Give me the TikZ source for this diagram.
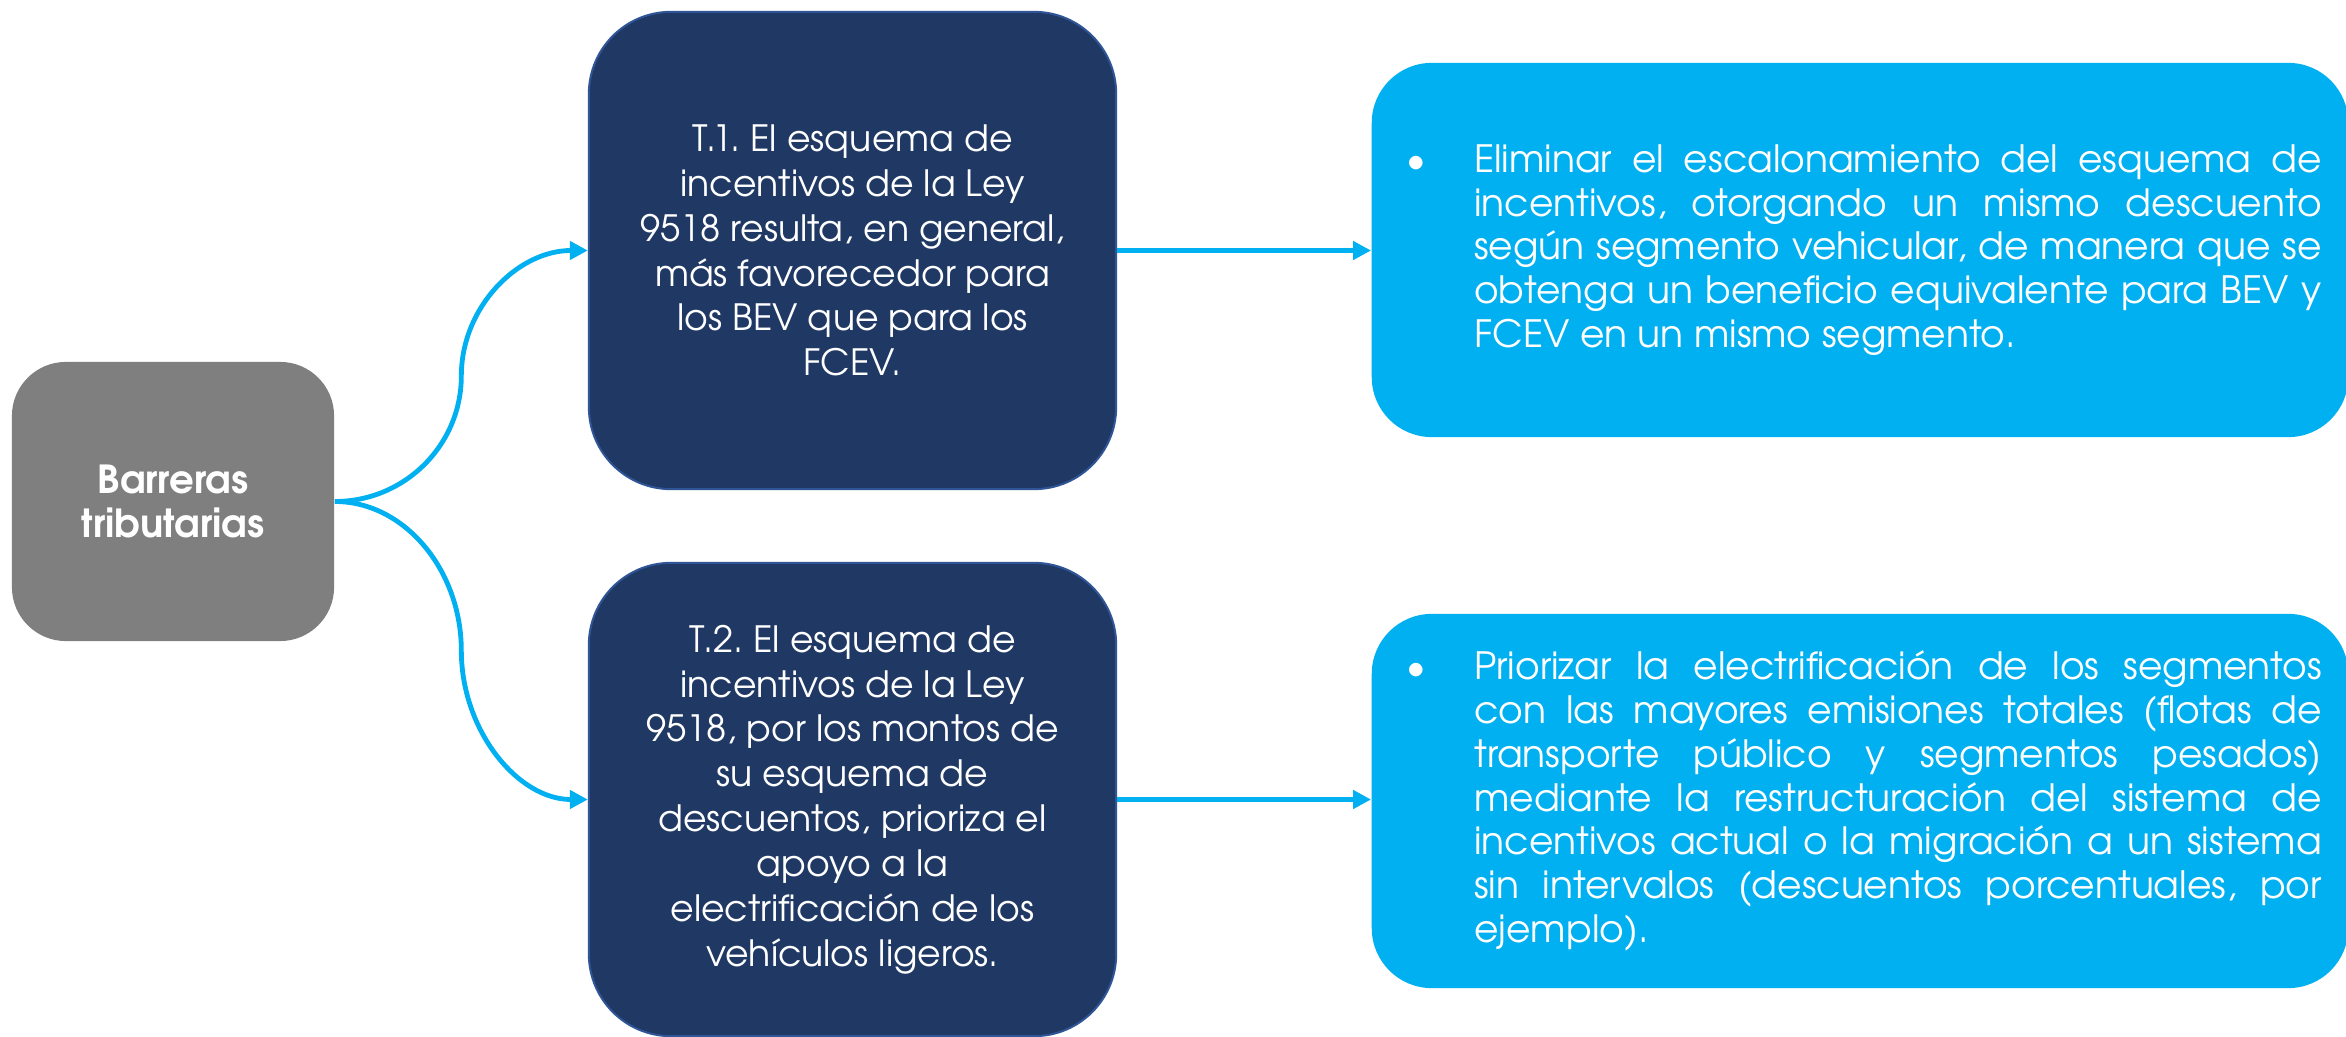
\documentclass[tikz,border=0pt]{standalone}
\usepackage{fontspec}
\setmainfont{texgyreadventor}[Extension=.otf,UprightFont=*-regular,BoldFont=*-bold,ItalicFont=*-italic,BoldItalicFont=*-bolditalic]
\usetikzlibrary{arrows.meta,calc}
\definecolor{cgray}{HTML}{7F7F7F}
\definecolor{cnavy}{HTML}{203864}
\definecolor{cnavyline}{HTML}{2F5597}
\definecolor{ccyan}{HTML}{00B0F0}
\newcommand{\jline}[1]{\makebox[\linewidth][s]{#1}}
\frenchspacing
\begin{document}
\begin{tikzpicture}[x=0.01cm,y=-0.01cm,
  graybox/.style={fill=cgray,draw=none,rounded corners=0.54cm,minimum width=3.22cm,minimum height=2.79cm,
    text=white,font=\fontsize{11}{12.7}\selectfont\bfseries,align=center,inner sep=0pt},
  navybox/.style={fill=cnavy,draw=cnavyline,line width=0.02cm,rounded corners=0.82cm,minimum width=5.27cm,
    text=white,align=center,font=\fontsize{10.3}{12.75}\selectfont,inner sep=0pt},
  cyanbox/.style={fill=ccyan,draw=none,rounded corners=0.6cm,minimum width=9.76cm,minimum height=3.74cm,
    text=white,font=\fontsize{10.7}{12.45}\selectfont,inner sep=0pt},
  conn/.style={draw=ccyan,line width=0.048cm,-{Triangle[length=0.18cm,width=0.18cm]}},
  hconn/.style={draw=ccyan,line width=0.05cm,-{Triangle[length=0.18cm,width=0.18cm]}}]
\useasboundingbox (0,0) rectangle (2346,1037);
\fill[white] (0,0) rectangle (2346,1037);

\node[graybox] (L) at (173,501.5) {Barreras\\tributarias};

\node[navybox,minimum height=4.77cm] (T1) at (852.5,250.5)
  {T.1. El esquema de\\incentivos de la Ley\\9518 resulta, en general,\\más favorecedor para\\los BEV que para los\\FCEV.};
\node[navybox,minimum height=4.73cm] (T2) at (852.5,799.5)
  {T.2. El esquema de\\incentivos de la Ley\\9518, por los montos de\\su esquema de\\descuentos, prioriza el\\apoyo a la\\electrificación de los\\vehículos ligeros.};

\node[cyanbox] (R1) at (1860,250)
  {\makebox[0.76cm][l]{\hspace{0.08cm}\textbullet}\parbox[t]{8.47cm}{\fontsize{10.7}{12.45}\selectfont
   \jline{Eliminar el escalonamiento del esquema de}\\
   \jline{incentivos, otorgando un mismo descuento}\\
   \jline{según segmento vehicular, de manera que se}\\
   \jline{obtenga un beneficio equivalente para BEV y}\\
   FCEV en un mismo segmento.}};
\node[cyanbox] (R2) at (1860,801)
  {\makebox[0.76cm][l]{\hspace{0.08cm}\textbullet}\parbox[t]{8.47cm}{\fontsize{10.7}{12.45}\selectfont
   \jline{Priorizar la electrificación de los segmentos}\\
   \jline{con las mayores emisiones totales (flotas de}\\
   \jline{transporte público y segmentos pesados)}\\
   \jline{mediante la restructuración del sistema de}\\
   \jline{incentivos actual o la migración a un sistema}\\
   \jline{sin intervalos (descuentos porcentuales, por}\\
   ejemplo).}};

\coordinate (m1) at ($(L.east)!0.5!(T1.west)$);
\coordinate (m2) at ($(L.east)!0.5!(T2.west)$);
\draw[conn] (L.east) .. controls +(70,0) and +(0,69) .. (m1) .. controls +(0,-69) and +(-70,0) .. (T1.west);
\draw[conn] (L.east) .. controls +(70,0) and +(0,-80) .. (m2) .. controls +(0,80) and +(-70,0) .. (T2.west);
\draw[hconn] (T1.east) -- (T1.east -| R1.west);
\draw[hconn] (T2.east) -- (T2.east -| R2.west);
\end{tikzpicture}
\end{document}
